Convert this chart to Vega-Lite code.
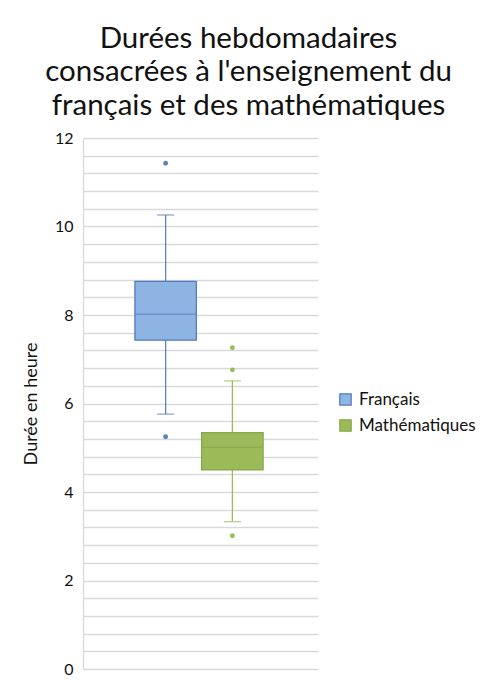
{
  "$schema": "https://vega.github.io/schema/vega-lite/v6.json",
  "autosize": {"type": "none"},
  "width": 235,
  "height": 531,
  "padding": {"left": 83, "top": 138, "right": 170, "bottom": 28},
  "background": "white",
  "config": {
    "view": {"stroke": null},
    "font": "Lato",
    "title": {"font": "Lato", "fontWeight": "normal", "fontSize": 29.5, "color": "#111", "lineHeight": 33.5, "anchor": "middle", "dx": 48, "offset": 9},
    "axis": {"labelFont": "Lato", "titleFont": "Lato"},
    "legend": {"labelFont": "Lato"}
  },
  "title": {"text": ["Durées hebdomadaires", "consacrées à l'enseignement du", "français et des mathématiques"]},
  "datasets": {
    "summary": [
      {"serie": "Français", "low": 5.76, "q1": 7.43, "median": 8.02, "q3": 8.76, "high": 10.26},
      {"serie": "Mathématiques", "low": 3.33, "q1": 4.5, "median": 5.01, "q3": 5.34, "high": 6.51}
    ],
    "outliers": [
      {"serie": "Français", "value": 11.43},
      {"serie": "Français", "value": 5.25},
      {"serie": "Mathématiques", "value": 7.26},
      {"serie": "Mathématiques", "value": 6.76},
      {"serie": "Mathématiques", "value": 3.01}
    ]
  },
  "encoding": {
    "x": {
      "field": "serie", "type": "nominal", "axis": null,
      "scale": {"domain": ["Français", "Mathématiques"], "paddingInner": 0.08, "paddingOuter": 0.8, "align": 0.486}
    }
  },
  "layer": [
    {
      "data": {"name": "summary"},
      "mark": {"type": "rule", "strokeWidth": 1.3},
      "encoding": {
        "y": {"field": "low", "type": "quantitative", "scale": {"domain": [0, 12], "nice": false},
          "axis": {
            "title": "Durée en heure", "titleFontSize": 18, "titleFontWeight": "normal", "titleColor": "#111", "titlePadding": 14,
            "values": [0, 0.4, 0.8, 1.2, 1.6, 2, 2.4, 2.8, 3.2, 3.6, 4, 4.4, 4.8, 5.2, 5.6, 6, 6.4, 6.8, 7.2, 7.6, 8, 8.4, 8.8, 9.2, 9.6, 10, 10.4, 10.8, 11.2, 11.6, 12],
            "tickCount": 40,
            "labelExpr": "(abs(datum.value - round(datum.value / 2) * 2) < 0.001) ? format(datum.value, '.0f') : ''",
            "labelOverlap": false, "labelFontSize": 16, "labelColor": "#111", "labelPadding": 10,
            "ticks": false, "domainColor": "#d9d9d9", "domainWidth": 1.3,
            "gridColor": "#d9d9d9", "gridWidth": 1.3
          }},
        "y2": {"field": "high"},
        "color": {"field": "serie", "type": "nominal", "scale": {"domain": ["Français", "Mathématiques"], "range": ["#5a82bb", "#9bbb59"]}, "legend": null}
      }
    },
    {
      "data": {"name": "summary"},
      "mark": {"type": "tick", "size": 17, "thickness": 1.3},
      "encoding": {
        "y": {"field": "low", "type": "quantitative"},
        "color": {"field": "serie", "type": "nominal", "legend": null}
      }
    },
    {
      "data": {"name": "summary"},
      "mark": {"type": "tick", "size": 17, "thickness": 1.3},
      "encoding": {
        "y": {"field": "high", "type": "quantitative"},
        "color": {"field": "serie", "type": "nominal", "legend": null}
      }
    },
    {
      "data": {"name": "summary"},
      "mark": {"type": "bar", "strokeWidth": 1.3},
      "encoding": {
        "y": {"field": "q1", "type": "quantitative"},
        "y2": {"field": "q3"},
        "fill": {"field": "serie", "type": "nominal", "title": null,
          "scale": {"domain": ["Français", "Mathématiques"], "range": ["#8eb4e3", "#9bbb59"]},
          "legend": {"orient": "none", "legendX": 254, "legendY": 253, "symbolType": "square", "symbolSize": 130, "symbolStrokeWidth": 1.2, "labelFontSize": 17, "labelColor": "#111", "rowPadding": 8, "labelOffset": 5,
            "encode": {"symbols": {"update": {"stroke": {"scale": "stroke", "field": "value"}}}}}},
        "stroke": {"field": "serie", "type": "nominal", "legend": null,
          "scale": {"domain": ["Français", "Mathématiques"], "range": ["#4f7dbb", "#86a84a"]}}
      }
    },
    {
      "data": {"name": "summary"},
      "mark": {"type": "tick", "size": 61, "thickness": 1.3},
      "encoding": {
        "y": {"field": "median", "type": "quantitative"},
        "fill": {"field": "serie", "type": "nominal", "scale": {"domain": ["Français", "Mathématiques"], "range": ["#4f7dbb", "#86a84a"]}, "legend": null}
      }
    },
    {
      "data": {"name": "outliers"},
      "mark": {"type": "point", "filled": true, "size": 24, "opacity": 1},
      "encoding": {
        "y": {"field": "value", "type": "quantitative"},
        "color": {"field": "serie", "type": "nominal", "legend": null}
      }
    }
  ],
  "resolve": {"scale": {"fill": "independent"}}
}
